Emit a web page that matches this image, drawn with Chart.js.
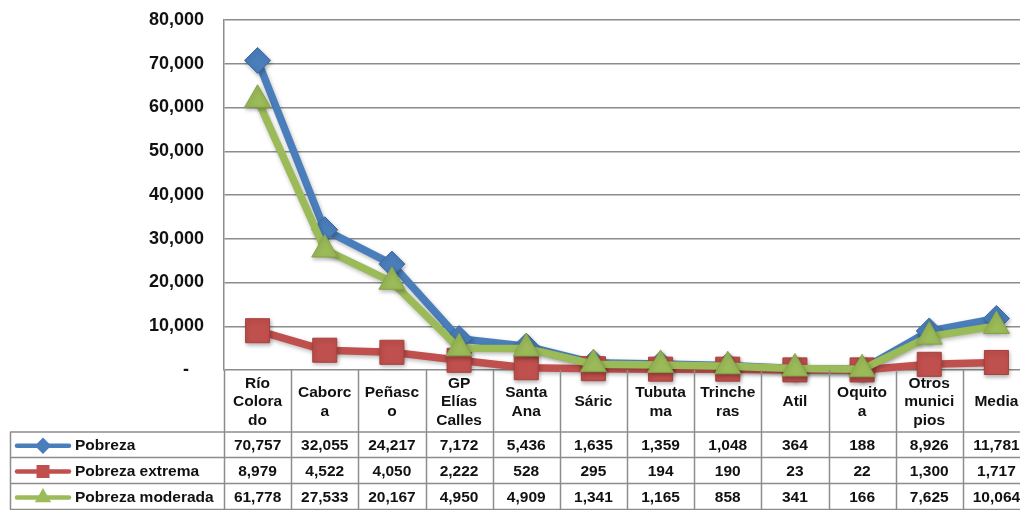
<!DOCTYPE html>
<html>
<head>
<meta charset="utf-8">
<script src="https://cdn.jsdelivr.net/npm/chart.js@4/dist/chart.umd.min.js"></script>
<style>
  html, body { margin: 0; padding: 0; background: #ffffff; overflow: hidden; }
  #wrap { width: 1020px; height: 510px; overflow: hidden; }
</style>
</head>
<body>
<div id="wrap"><canvas id="povertyChart" width="1048" height="510"></canvas></div>
<script>
// categories (wrapped the way the original table wraps them)
const categories = [
    ["Río", "Colora", "do"], ["Caborc", "a"], ["Peñasc", "o"], ["GP", "Elías", "Calles"],
    ["Santa", "Ana"], ["Sáric"], ["Tubuta", "ma"], ["Trinche", "ras"], ["Atil"],
    ["Oquito", "a"], ["Otros", "munici", "pios"], ["Media"]
];
const seriesNames = ["Pobreza", "Pobreza extrema", "Pobreza moderada"];
const pobreza = [70757, 32055, 24217, 7172, 5436, 1635, 1359, 1048, 364, 188, 8926, 11781];
const pobrezaExtrema = [8979, 4522, 4050, 2222, 528, 295, 194, 190, 23, 22, 1300, 1717];
const pobrezaModerada = [61778, 27533, 20167, 4950, 4909, 1341, 1165, 858, 341, 166, 7625, 10064];
const yTicks = [0, 10000, 20000, 30000, 40000, 50000, 60000, 70000, 80000];

const FONT = "'Liberation Sans', Arial, sans-serif";
const GRID = "#8c8c8c";

// ================== SHADOW UNDER THE SERIES (excel look) ==================
const softShadow = {
    id: "softShadow",
    beforeDatasetsDraw(chart) {
        const ctx = chart.ctx;
        ctx.save();
        ctx.shadowColor = "rgba(0,0,0,0.28)";
        ctx.shadowBlur = 4;
        ctx.shadowOffsetX = 1;
        ctx.shadowOffsetY = 2;
    },
    afterDatasetsDraw(chart) {
        chart.ctx.restore();
    }
};

// ================== DATA TABLE UNDER THE PLOT ==================
const dataTable = {
    id: "dataTable",
    afterDraw(chart) {
        const ctx = chart.ctx;
        const x = chart.scales.x;
        const area = chart.chartArea;
        const colW = x.getPixelForValue(1) - x.getPixelForValue(0);
        const headTop = area.bottom;
        const headBottom = 432;
        const rowTops = [432, 457.5, 483.5, 509.5];
        const tableLeft = 10;
        const tableRight = x.getPixelForValue(categories.length - 1) + colW / 2;

        ctx.save();
        ctx.strokeStyle = GRID;
        ctx.lineWidth = 1.5;

        // vertical separators
        for (let i = 0; i <= categories.length; i++) {
            const px = Math.round(x.getPixelForValue(0) - colW / 2 + i * colW) + 0.5;
            ctx.beginPath();
            ctx.moveTo(px, headTop);
            ctx.lineTo(px, 510);
            ctx.stroke();
        }
        // horizontal lines
        rowTops.forEach(y => {
            ctx.beginPath();
            ctx.moveTo(tableLeft, y);
            ctx.lineTo(tableRight, y);
            ctx.stroke();
        });
        ctx.beginPath();
        ctx.moveTo(tableLeft + 0.5, headBottom);
        ctx.lineTo(tableLeft + 0.5, 510);
        ctx.stroke();

        // header labels
        ctx.fillStyle = "#111111";
        ctx.textAlign = "center";
        ctx.textBaseline = "middle";
        ctx.font = "bold 15.5px " + FONT;
        const lineH = 18.5;
        const headMid = (headTop + headBottom) / 2 + 1;
        categories.forEach((lines, i) => {
            const cx = x.getPixelForValue(i);
            const startY = headMid - (lines.length - 1) * lineH / 2;
            lines.forEach((t, k) => ctx.fillText(t, cx, startY + k * lineH));
        });

        // rows: legend key + values
        const rows = [pobreza, pobrezaExtrema, pobrezaModerada];
        rows.forEach((vals, r) => {
            const midY = (rowTops[r] + rowTops[r + 1]) / 2 + 1;
            const ds = chart.data.datasets[r];

            ctx.save();
            ctx.strokeStyle = ds.borderColor;
            ctx.lineWidth = 4.5;
            ctx.lineCap = "round";
            ctx.beginPath();
            ctx.moveTo(17, midY);
            ctx.lineTo(69, midY);
            ctx.stroke();
            Chart.helpers.drawPoint(ctx, {
                pointStyle: ds.pointStyle, radius: ds.pointStyle === "rect" ? 6 : 5,
                borderWidth: 1, rotation: 0
            }, 43, midY);
            ctx.fillStyle = ds.pointBackgroundColor;
            ctx.strokeStyle = ds.pointBorderColor;
            ctx.fill();
            ctx.restore();

            ctx.fillStyle = "#111111";
            ctx.textAlign = "left";
            ctx.fillText(seriesNames[r], 75, midY);
            ctx.textAlign = "center";
            vals.forEach((v, i) => {
                ctx.fillText(v.toLocaleString("en-US"), x.getPixelForValue(i), midY);
            });
        });
        ctx.restore();
    }
};

function makeSeries(label, values, color, border, style, radius, order) {
    return {
        label: label,
        data: values,
        borderColor: color,
        backgroundColor: color,
        borderWidth: 7.5,
        pointStyle: style,
        pointRadius: radius,
        pointHoverRadius: radius,
        pointBackgroundColor: color,
        pointBorderColor: border,
        pointBorderWidth: 1,
        tension: 0,
        clip: false,
        order: order
    };
}

const ctx = document.getElementById("povertyChart").getContext("2d");
new Chart(ctx, {
    type: "line",
    data: {
        labels: categories.map(c => c.join("")),
        datasets: [
            makeSeries(seriesNames[0], pobreza, "#4A7EBB", "#3A6AA6", "rectRot", 13, 3),
            makeSeries(seriesNames[1], pobrezaExtrema, "#C0504D", "#A8403D", "rect", 17, 2),
            makeSeries(seriesNames[2], pobrezaModerada, "#9BBB59", "#86A448", "triangle", 15, 1)
        ]
    },
    options: {
        responsive: false,
        animation: false,
        events: [],
        layout: { padding: { top: 20, bottom: 140, right: 10, left: 0 } },
        plugins: {
            legend: { display: false },
            tooltip: { enabled: false }
        },
        scales: {
            x: {
                display: false,
                offset: true
            },
            y: {
                min: 0,
                max: 80000,
                afterFit: s => { s.width = 224; s.paddingTop = 0; s.paddingBottom = 0; },
                afterBuildTicks: s => { s.ticks = yTicks.map(v => ({ value: v })); },
                border: { display: true, color: GRID, width: 1.5 },
                grid: { color: GRID, lineWidth: 1.5, drawTicks: false },
                ticks: {
                    padding: 20,
                    color: "#111111",
                    font: { family: FONT, size: 18, weight: "bold" },
                    callback: v => v === 0 ? "-   " : v.toLocaleString("en-US")
                }
            }
        }
    },
    plugins: [softShadow, dataTable]
});
</script>
</body>
</html>
